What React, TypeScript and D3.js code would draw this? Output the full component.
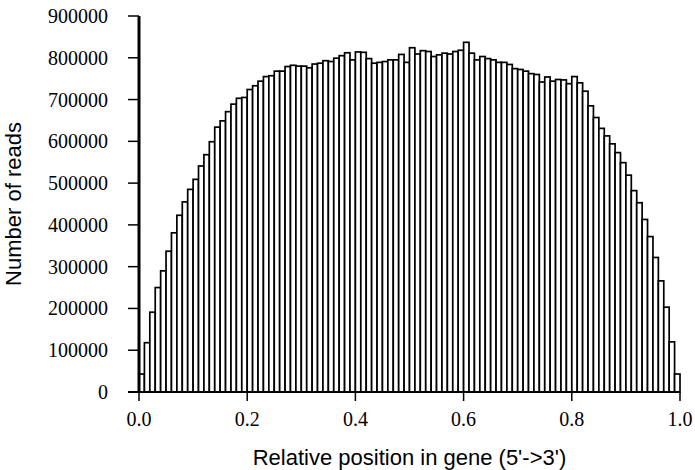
import React from "react";
import * as d3 from "d3";

// reads per relative position bin (100 bins from 5' to 3')
const readCounts = [
  43000, 118000, 191000, 250000, 290000, 337000, 381000, 423000, 455000, 485000,
  509000, 541000, 568000, 599000, 634000, 649000, 671000, 689000, 703000, 705000,
  724000, 733000, 744000, 755000, 757000, 768000, 768000, 779000, 782000, 780000,
  780000, 776000, 785000, 787000, 793000, 791000, 799000, 805000, 812000, 795000,
  814000, 813000, 798000, 787000, 789000, 791000, 795000, 795000, 808000, 789000,
  824000, 809000, 817000, 815000, 803000, 807000, 811000, 809000, 815000, 818000,
  837000, 811000, 795000, 803000, 798000, 795000, 789000, 789000, 784000, 774000,
  772000, 768000, 762000, 760000, 742000, 754000, 744000, 748000, 747000, 738000,
  755000, 740000, 720000, 685000, 657000, 631000, 613000, 594000, 573000, 549000,
  519000, 482000, 453000, 413000, 372000, 322000, 266000, 203000, 120000, 43000,
];

const xTicks = [0, 0.2, 0.4, 0.6, 0.8, 1.0];
const yTicks = [0, 100000, 200000, 300000, 400000, 500000, 600000, 700000, 800000, 900000];

const width = 695;
const height = 470;

export default function App() {
  const x = d3.scaleLinear().domain([0, 1]).range([139, 680]);
  const y = d3.scaleLinear().domain([0, 900000]).range([392, 16]);
  const n = readCounts.length;

  return (
    <svg
      width={width}
      height={height}
      style={{ position: "absolute", left: 0, top: 0, background: "#fff" }}
    >
      {/* bars */}
      <g>
        {readCounts.map((v, i) => (
          <rect
            key={i}
            x={x(i / n)}
            y={y(v)}
            width={x((i + 1) / n) - x(i / n)}
            height={y(0) - y(v)}
            fill="#fff"
            stroke="#000"
            strokeWidth={1.7}
          />
        ))}
      </g>

      {/* y axis */}
      <line x1={x(0)} x2={x(0)} y1={y(900000)} y2={y(0)} stroke="#000" strokeWidth={3} />
      {yTicks.map((t) => (
        <g key={t} transform={`translate(0,${y(t)})`}>
          <line x1={x(0) - 11} x2={x(0)} stroke="#000" strokeWidth={1.5} />
          <text
            x={108}
            dy="0.35em"
            textAnchor="end"
            fontFamily="Liberation Serif, Times New Roman, serif"
            fontSize={20}
          >
            {t}
          </text>
        </g>
      ))}

      {/* x axis */}
      <line x1={x(0) - 11} x2={x(1)} y1={y(0)} y2={y(0)} stroke="#000" strokeWidth={2} />
      {xTicks.map((t) => (
        <g key={t} transform={`translate(${x(t)},${y(0)})`}>
          <line y1={0} y2={9} stroke="#000" strokeWidth={1.5} />
          <text
            y={34}
            textAnchor="middle"
            fontFamily="Liberation Serif, Times New Roman, serif"
            fontSize={20}
          >
            {t.toFixed(1)}
          </text>
        </g>
      ))}

      {/* axis titles */}
      <text
        x={(x(0) + x(1)) / 2}
        y={465}
        textAnchor="middle"
        fontFamily="Liberation Sans, Arial, sans-serif"
        fontSize={22}
      >
        Relative position in gene (5'-&gt;3')
      </text>
      <text
        transform={`translate(21,${y(450000)}) rotate(-90)`}
        textAnchor="middle"
        fontFamily="Liberation Sans, Arial, sans-serif"
        fontSize={22}
      >
        Number of reads
      </text>
    </svg>
  );
}
